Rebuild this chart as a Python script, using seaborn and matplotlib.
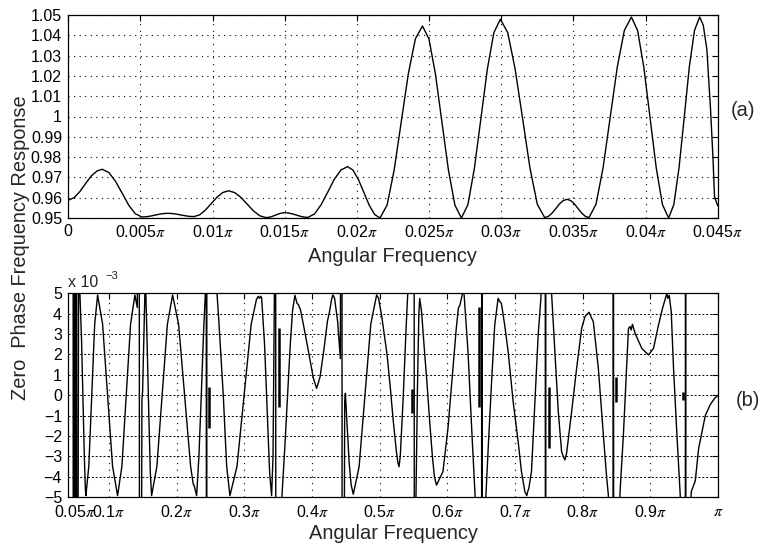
import matplotlib
matplotlib.use("Agg")
import matplotlib.pyplot as plt
import numpy as np
import pandas as pd
import seaborn as sns

# ---------------- (a) passband magnitude response ----------------
# frequencies in units of pi
mag_w = [0.0000, 0.0004, 0.0008, 0.0012, 0.0016, 0.0020, 0.00235,
         0.00281, 0.00327, 0.00373, 0.00418, 0.00464, 0.0051,
         0.0054, 0.0057, 0.0060, 0.0063, 0.0066, 0.0069,
         0.0072, 0.0075, 0.0078, 0.0081, 0.0084, 0.0087,
         0.0091, 0.0095, 0.0099, 0.0103, 0.0107, 0.0111,
         0.01153, 0.01197, 0.0124, 0.01283, 0.01327, 0.0137,
         0.01392, 0.01413, 0.01435, 0.01457, 0.01478, 0.0150,
         0.01527, 0.01553, 0.0158, 0.01607, 0.01633, 0.0166,
         0.01706, 0.01752, 0.01798, 0.01843, 0.01889, 0.01935,
         0.01973, 0.0201, 0.02048, 0.02085, 0.02123, 0.0216,
         0.02209, 0.02258, 0.02307, 0.02356, 0.02405, 0.02454,
         0.02499, 0.02544, 0.02589, 0.02634, 0.02679, 0.02724,
         0.02769, 0.02814, 0.02859, 0.02904, 0.02949, 0.02994,
         0.03045, 0.03096, 0.03148, 0.03199, 0.0325, 0.03301,
         0.03327, 0.03353, 0.03379, 0.03404, 0.0343, 0.03456,
         0.03481, 0.03507, 0.03532, 0.03557, 0.03583, 0.03608,
         0.03657, 0.03706, 0.03755, 0.03804, 0.03853, 0.03902,
         0.03945, 0.03988, 0.04031, 0.04074, 0.04117, 0.0416,
         0.04196, 0.04232, 0.04268, 0.04303, 0.04339, 0.04375,
         0.04400, 0.04425, 0.04450, 0.04467, 0.04478, 0.0450]
mag_h = [0.9588, 0.9600, 0.9630, 0.9670, 0.9708, 0.9732, 0.9740,
         0.9724, 0.9681, 0.96225, 0.9564, 0.9521, 0.9505,
         0.9506, 0.95095, 0.9514, 0.95185, 0.9522, 0.9523,
         0.9522, 0.9519, 0.9515, 0.9511, 0.9508, 0.9507,
         0.95155, 0.9539, 0.95705, 0.9602, 0.96255, 0.9634,
         0.96252, 0.9601, 0.9568, 0.9535, 0.95108, 0.9502,
         0.95036, 0.9508, 0.9514, 0.9520, 0.95244, 0.9526,
         0.95245, 0.95203, 0.95145, 0.95087, 0.95045, 0.9503,
         0.95198, 0.95655, 0.9628, 0.96905, 0.97363, 0.9753,
         0.9736, 0.96897, 0.96265, 0.95633, 0.9517, 0.9500,
         0.95634, 0.97365, 0.9973, 1.02095, 1.03826, 1.0446,
         1.03826, 1.02095, 0.9973, 0.97365, 0.95634, 0.9500,
         0.95656, 0.97448, 0.99895, 1.02343, 1.04134, 1.0479,
         1.04135, 1.02348, 0.99905, 0.97463, 0.95675, 0.9502,
         0.9508, 0.95245, 0.9547, 0.95695, 0.9586, 0.9592,
         0.9586, 0.95695, 0.9547, 0.95245, 0.9508, 0.9502,
         0.95682, 0.9749, 0.9996, 1.0243, 1.04238, 1.0490,
         1.04237, 1.02425, 0.9995, 0.97475, 0.95663, 0.9500,
         0.95663, 0.97475, 0.9995, 1.02425, 1.04237, 1.0490,
         1.0450, 1.0330, 1.0040, 0.9800, 0.9605, 0.9560]

mag_xticks = [0, 0.005, 0.01, 0.015, 0.02, 0.025, 0.03, 0.035, 0.04, 0.045]
mag_xlabels = ["0", r"0.005$\pi$", r"0.01$\pi$", r"0.015$\pi$", r"0.02$\pi$",
               r"0.025$\pi$", r"0.03$\pi$", r"0.035$\pi$", r"0.04$\pi$",
               r"0.045$\pi$"]
mag_yticks = [0.95, 0.96, 0.97, 0.98, 0.99, 1.0, 1.01, 1.02, 1.03, 1.04, 1.05]
mag_ylabels = ["0.95", "0.96", "0.97", "0.98", "0.99", "1",
               "1.01", "1.02", "1.03", "1.04", "1.05"]

# ---------------- (b) zero-phase response, units of 1e-3 ----------------
zp_w = [0.0400, 0.0470, 0.0474, 0.0489, 0.0493, 0.0508, 0.0512, 0.0522, 0.0526,
        0.0545, 0.0552, 0.0568, 0.0595, 0.0615, 0.0637, 0.0652, 0.0660,
        0.0703, 0.0747, 0.0790, 0.0833, 0.0907, 0.0981, 0.1054, 0.1128,
        0.1192, 0.1256, 0.1320, 0.1384, 0.1420, 0.1445, 0.1455, 0.1488,
        0.1498, 0.1535, 0.1542, 0.1565, 0.1590, 0.1612, 0.1631,
        0.1709, 0.1786, 0.1864, 0.1941, 0.2030, 0.2119, 0.2207, 0.2246,
        0.2262, 0.2296, 0.2330, 0.2365, 0.2400, 0.2429, 0.2436, 0.2443,
        0.2450, 0.2578, 0.2591, 0.2625, 0.2690, 0.2740, 0.2788,
        0.2893, 0.2998, 0.3102, 0.3180, 0.3207, 0.3225, 0.3240, 0.3256,
        0.3300, 0.3340, 0.3375, 0.3404, 0.3425, 0.3448, 0.3462, 0.3468,
        0.3545, 0.3556,
        0.3600, 0.3640, 0.3680, 0.3715, 0.3749, 0.3780, 0.3800, 0.3830,
        0.3872, 0.3946, 0.4020, 0.4069, 0.4120, 0.4175, 0.4230, 0.4260,
        0.4290, 0.4310, 0.4335, 0.4380, 0.4420, 0.4440, 0.4450, 0.4484,
        0.4494, 0.4520, 0.4550, 0.4580, 0.4611, 0.4697, 0.4784, 0.4870,
        0.4956,
        0.4985, 0.5030, 0.5072, 0.5110, 0.5160, 0.5200, 0.5246, 0.5270,
        0.5287, 0.5305, 0.5350, 0.5390, 0.5420, 0.5440, 0.5508, 0.5515,
        0.5535, 0.5560, 0.5580, 0.5592, 0.5620, 0.5660, 0.5700, 0.5740,
        0.5780, 0.5810, 0.5840, 0.5870, 0.5936,
        0.6010, 0.6084, 0.6133, 0.6165, 0.6185, 0.6232, 0.6245, 0.6306,
        0.6365, 0.6415, 0.6430, 0.6505, 0.6510, 0.6515, 0.6562, 0.6602,
        0.6652, 0.6701, 0.6751, 0.6776, 0.6800, 0.6850, 0.6899, 0.6973,
        0.7047, 0.7096, 0.7146, 0.7174, 0.7190, 0.7205,
        0.7244, 0.7294, 0.7343, 0.7383, 0.7400, 0.7445, 0.7452, 0.7458,
        0.7528, 0.7541, 0.7590, 0.7640, 0.7689, 0.7714, 0.7738, 0.7763,
        0.7837, 0.7911, 0.7985, 0.8035, 0.8094, 0.8158, 0.8232, 0.8306,
        0.8356, 0.8380,
        0.8400, 0.8448, 0.8454, 0.8460, 0.8540, 0.8553, 0.8602, 0.8637,
        0.8677, 0.8701, 0.8716, 0.8736, 0.8775, 0.8874, 0.8973, 0.9047,
        0.9121, 0.9180, 0.9210, 0.9244, 0.9259, 0.9279, 0.9309, 0.9343,
        0.9393, 0.9442, 0.9460, 0.9515, 0.9521, 0.9527, 0.9590, 0.9605,
        0.9664, 0.9714, 0.9763, 0.9812, 0.9886, 0.9950, 1.0000]
zp_h = [40, 40, -40, 40, -40, 40, -40, 40, -40,
        -6.0, 5.3, 5.3, 2.8, 0.0, -3.0, -4.6, -4.92,
        -3.48, 0.0, 3.48, 4.92, 3.48, 0.0, -3.48, -4.92,
        -3.48, 0.0, 3.48, 4.92, 4.3, 40, -40, -0.2,
        0.2, 5.5, 5.5, 2.5, -1.0, -3.8, -4.92,
        -3.48, 0.0, 3.48, 4.92, 3.48, 0.0, -3.48, -4.35,
        -4.45, -4.92, -3.0, 0.0, 3.2, 5.3, 40, -40,
        40, 40, 5.3, 3.6, 0.0, -3.48, -4.92,
        -3.48, 0.0, 3.48, 4.7, 4.85, 4.75, 4.85, 4.8,
        2.5, -0.8, -3.8, -4.92, -3.0, 6.0, 40, -40,
        -40, -5.0,
        -2.5, 0.0, 2.5, 4.2, 4.9, 4.5, 4.45, 4.2,
        3.5, 2.2, 0.85, 0.34, 0.9, 2.2, 3.65, 4.1,
        4.7, 4.92, 4.75, 3.6, 1.8, 40, -40, -0.3,
        0.1, -1.5, -3.3, -4.4, -4.85, -3.5, 0.0, 3.5,
        4.92,
        4.75, 3.9, 2.9, 2.0, 0.3, -1.2, -2.7, -3.3,
        -3.5, -3.0, 0.0, 3.2, 5.3, 40, 40, -40,
        -5.5, 0.5, 4.0, 4.75, 4.1, 2.3, 0.6, -1.3,
        -3.0, -4.0, -4.4, -4.2, -3.74,
        -1.62, 1.32, 3.29, 4.3, 4.4, 5.1, 5.1, 2.14,
        -1.94, -5.2, -40, -40, 40, -40, -5.5, -2.76,
        0.51, 3.45, 4.75, 4.6, 4.5, 3.4, 2.14, -0.31,
        -2.27, -3.74, -4.72, -4.92, -4.7, -4.56,
        -3.74, -0.31, 2.96, 4.75, 8.0, 40, -40, 40,
        40, 5.0, 2.14, -0.8, -2.76, -3.0, -3.17, -2.84,
        -0.8, 1.32, 3.28, 3.86, 4.07, 3.6, 1.32, -1.94,
        -4.07, -4.89,
        -40, -40, 40, -40, -6.0, -4.72, -1.94, 0.51,
        3.28, 3.37, 3.2, 3.48, 3.04, 2.3, 1.98, 2.3,
        3.45, 4.26, 4.6, 5.0, 4.75, 4.9, 4.1, 1.32,
        -1.94, -4.89, -40, -40, 40, -40, -6.0, -4.72,
        -4.2, -2.6, -1.8, -1.0, -0.45, -0.15, 0.0]

# narrow glitches near the band edges of the masking images
spike_w = [0.2485, 0.3510, 0.5476, 0.6470, 0.7500, 0.8500, 0.9480]
spike_lo = [-1.62, -0.56, -0.88, -0.56, -2.60, -0.31, -0.23]
spike_hi = [0.40, 3.28, 0.32, 4.35, 0.42, 0.90, 0.18]

zp_xticks = [0.05, 0.1, 0.2, 0.3, 0.4, 0.5, 0.6, 0.7, 0.8, 0.9, 1.0]
zp_xlabels = [r"0.05$\pi$", r"0.1$\pi$", r"0.2$\pi$", r"0.3$\pi$", r"0.4$\pi$",
              r"0.5$\pi$", r"0.6$\pi$", r"0.7$\pi$", r"0.8$\pi$", r"0.9$\pi$",
              r"$\pi$"]
zp_yticks = [-5, -4, -3, -2, -1, 0, 1, 2, 3, 4, 5]

assert len(mag_w) == len(mag_h)
assert len(zp_w) == len(zp_h), (len(zp_w), len(zp_h))

# ---------------- style ----------------
sns.set_style("white")
plt.rcParams["font.family"] = ["Liberation Sans", "DejaVu Sans"]
plt.rcParams["mathtext.fontset"] = "stix"
TICK_FS = 11.5
LABEL_FS = 14.4

W, H = 763, 548
fig = plt.figure(figsize=(W / 100, H / 100), dpi=100)


def px_axes(l, t, r, b):
    return fig.add_axes([l / W, 1 - b / H, (r - l) / W, (b - t) / H])


def frame(ax):
    for s in ax.spines.values():
        s.set_visible(True)
        s.set_color("black")
        s.set_linewidth(0.9)
    ax.tick_params(direction="in", top=True, right=True, length=4,
                   width=0.8, colors="black", labelsize=TICK_FS, pad=4.5)


# (a)
ax1 = px_axes(68.3, 15, 717.7, 218)
df_mag = pd.DataFrame({"w": mag_w, "h": mag_h})
sns.lineplot(data=df_mag, x="w", y="h", ax=ax1, color="black",
             linewidth=1.0, estimator=None, sort=False)
ax1.set_xlim(0, 0.045)
ax1.set_ylim(0.95, 1.05)
ax1.set_xticks(mag_xticks)
ax1.set_xticklabels(mag_xlabels)
ax1.set_yticks(mag_yticks)
ax1.set_yticklabels(mag_ylabels)
ax1.set_xlabel("")
ax1.set_ylabel("")
ax1.grid(True, axis="y", color="black", linewidth=0.8, linestyle=(0, (1, 4)))
ax1.grid(True, axis="x", color="black", linewidth=0.8, linestyle=(0, (1, 5)))
frame(ax1)

# (b)
ax2 = px_axes(68.3, 293.3, 718.0, 497.3)
df_zp = pd.DataFrame({"w": zp_w, "h": zp_h})
sns.lineplot(data=df_zp, x="w", y="h", ax=ax2, color="black",
             linewidth=1.0, estimator=None, sort=False)
ax2.vlines(spike_w, spike_lo, spike_hi, color="black", linewidth=1.8)
ax2.set_xlim(0.040, 1.0)
ax2.set_ylim(-5, 5)
ax2.set_xticks(zp_xticks)
ax2.set_xticklabels(zp_xlabels)
ax2.set_yticks(zp_yticks)
ax2.set_xlabel("")
ax2.set_ylabel("")
ax2.grid(True, axis="y", color="black", linewidth=0.7, linestyle=(0, (2, 2)))
ax2.grid(True, axis="x", color="black", linewidth=0.8, linestyle=(0, (1, 5)))
frame(ax2)

# labels
fig.text(392.5 / W, 1 - 262 / H, "Angular Frequency", ha="center",
         va="baseline", fontsize=LABEL_FS)
fig.text(393 / W, 1 - 539 / H, "Angular Frequency", ha="center",
         va="baseline", fontsize=LABEL_FS)
fig.text(21 / W, 1 - 248 / H, "Zero  Phase Frequency Response", rotation=90,
         ha="center", va="center", fontsize=LABEL_FS)
fig.text(743 / W, 1 - 110 / H, "(a)", ha="center", va="center",
         fontsize=LABEL_FS)
fig.text(748 / W, 1 - 400 / H, "(b)", ha="center", va="center",
         fontsize=LABEL_FS)
fig.text(68 / W, 1 - 287 / H, "x 10", ha="left", va="baseline",
         fontsize=TICK_FS)
fig.text(105 / W, 1 - 279 / H, "\u22123", ha="left", va="baseline",
         fontsize=8)

fig.savefig("out.png", dpi=100)
